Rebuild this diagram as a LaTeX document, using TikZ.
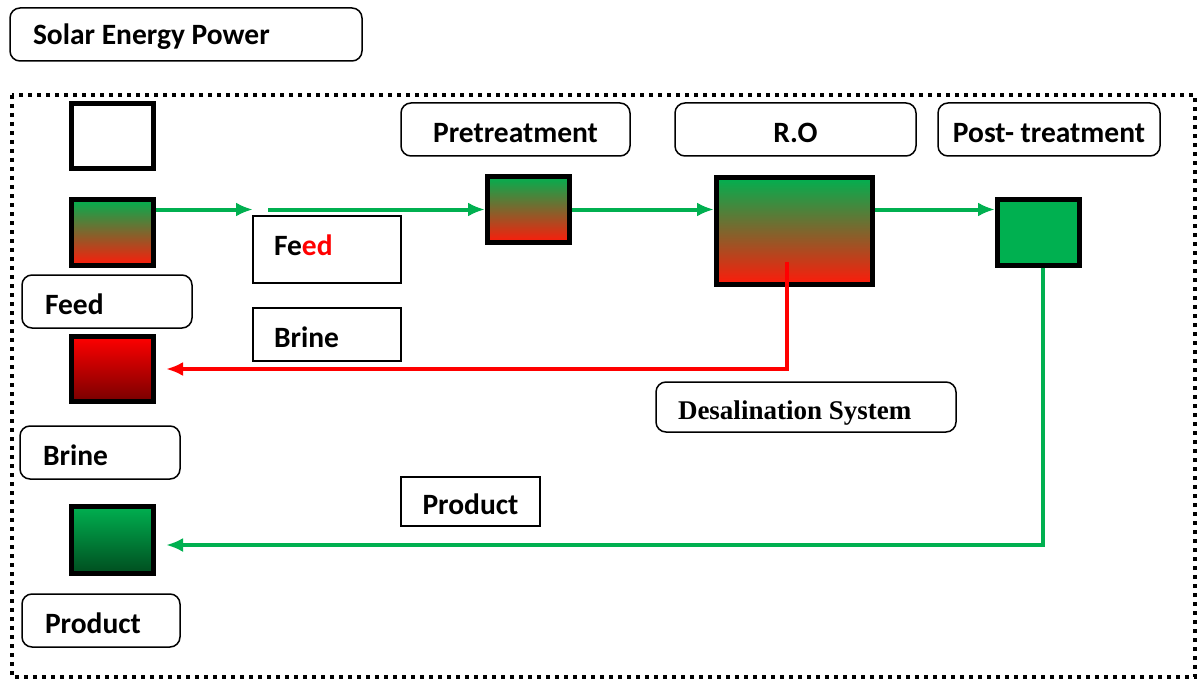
\documentclass[tikz,border=0pt]{standalone}
\usepackage{fontspec}
\setmainfont{Carlito}
\newfontfamily\serifbold{Liberation Serif}
\usetikzlibrary{arrows.meta}
\definecolor{flowgreen}{HTML}{00B050}
\definecolor{flowred}{HTML}{FF0000}
\definecolor{feedred}{HTML}{FF1A0A}
\definecolor{brinedark}{HTML}{780000}
\definecolor{proddark}{HTML}{004D1F}
\tikzset{
    unitbox/.style={draw=black,line width=5pt,inner sep=0pt},
    labfont/.style={font=\bfseries\fontsize{29.5}{31}\selectfont},
    roundlab/.style={draw=black,line width=1.5pt,rounded corners=10pt,inner sep=0pt,labfont,text height=26pt,text depth=0pt},
    sharplab/.style={draw=black,line width=2pt,inner sep=0pt,labfont,text height=25pt,text depth=0pt},
    lefttext/.style={align=flush left,text width=#1},
    flow/.style={line width=4pt,-{Latex[length=17pt,width=14pt]}},
}
\begin{document}
\begin{tikzpicture}[x=1pt,y=-1pt]

        \useasboundingbox (0,0) rectangle (1198,679);

        % Frame of the desalination plant
        \draw[line width=4pt,dash pattern=on 4pt off 5pt] (12,95) rectangle (1195,677);

        % Units (squares of the legend and of the process)
        \node[unitbox,minimum width=82pt,minimum height=65pt] (blanksq) at (112.5,136) {};
        \node[unitbox,minimum width=82pt,minimum height=66pt,top color=flowgreen,bottom color=feedred] (feedsq) at (112.5,232.5) {};
        \node[unitbox,minimum width=82pt,minimum height=65pt,top color=flowred,bottom color=brinedark] (brinesq) at (112.5,369) {};
        \node[unitbox,minimum width=82pt,minimum height=67pt,top color=flowgreen,bottom color=proddark] (prodsq) at (112.5,540) {};
        \node[unitbox,minimum width=82pt,minimum height=66pt,top color=flowgreen,bottom color=feedred] (presq) at (528.5,209.5) {};
        \node[unitbox,minimum width=156pt,minimum height=107pt,top color=flowgreen,bottom color=feedred] (rosq) at (794.5,231) {};
        \node[unitbox,minimum width=82pt,minimum height=66pt,fill=flowgreen] (postsq) at (1038.5,232.5) {};

        % Labels with rounded corners
        \node[roundlab,minimum width=352pt,minimum height=53pt,lefttext=306pt,text height=21pt] (solar) at (186,34.5) {Solar Energy Power};
        \node[roundlab,minimum width=170pt,minimum height=53pt,lefttext=124pt] (feedlab) at (107,301.5) {Feed};
        \node[roundlab,minimum width=160pt,minimum height=53pt,lefttext=114pt] (brinelab) at (100,452.5) {Brine};
        \node[roundlab,minimum width=158pt,minimum height=53pt,lefttext=112pt] (prodlab) at (101,620.5) {Product};
        \node[roundlab,minimum width=229pt,minimum height=53pt] (prelab) at (515.5,129.5) {Pretreatment};
        \node[roundlab,minimum width=241pt,minimum height=53pt] (rolab) at (795.5,129.5) {R.O};
        \node[roundlab,minimum width=222pt,minimum height=53pt] (postlab) at (1049,129.5) {Post- treatment};
        \node[roundlab,minimum width=300pt,minimum height=50pt,lefttext=256pt,text height=25pt,font=\serifbold\bfseries\fontsize{27}{29}\selectfont] (desal) at (806,407) {Desalination System};

        % Labels of the streams
        \node[sharplab,minimum width=148pt,minimum height=67pt,lefttext=106pt,text height=11pt] (feedtxt) at (327,249.5) {Fe\textcolor{flowred}{ed}};
        \node[sharplab,minimum width=148pt,minimum height=53pt,lefttext=106pt] (brinetxt) at (327,334.5) {Brine};
        \node[sharplab,minimum width=139pt,minimum height=49pt] (prodtxt) at (470.5,501.5) {Product};

        % Ends of the stream lines
        \coordinate (gapL) at (253,209.5);
        \coordinate (gapR) at (268,209.5);
        \coordinate (brinesrc) at (787,262);
        \coordinate (prodsrc) at (1043,268);

        % Feed stream
        \draw[flow,flowgreen] (feedsq.east |- presq.west) -- (gapL);
        \draw[flow,flowgreen] (gapR) -- (presq.west);
        \draw[flow,flowgreen] (presq.east) -- (rosq.west |- presq.east);
        \draw[flow,flowgreen] (rosq.east |- presq.east) -- (postsq.west |- presq.east);

        % Brine and product streams
        \draw[flow,flowred] (brinesrc) |- ([xshift=10pt]brinesq.east);
        \draw[flow,flowgreen] (prodsrc) |- ([xshift=10pt,yshift=-5pt]prodsq.east);
    \end{tikzpicture}
\end{document}
